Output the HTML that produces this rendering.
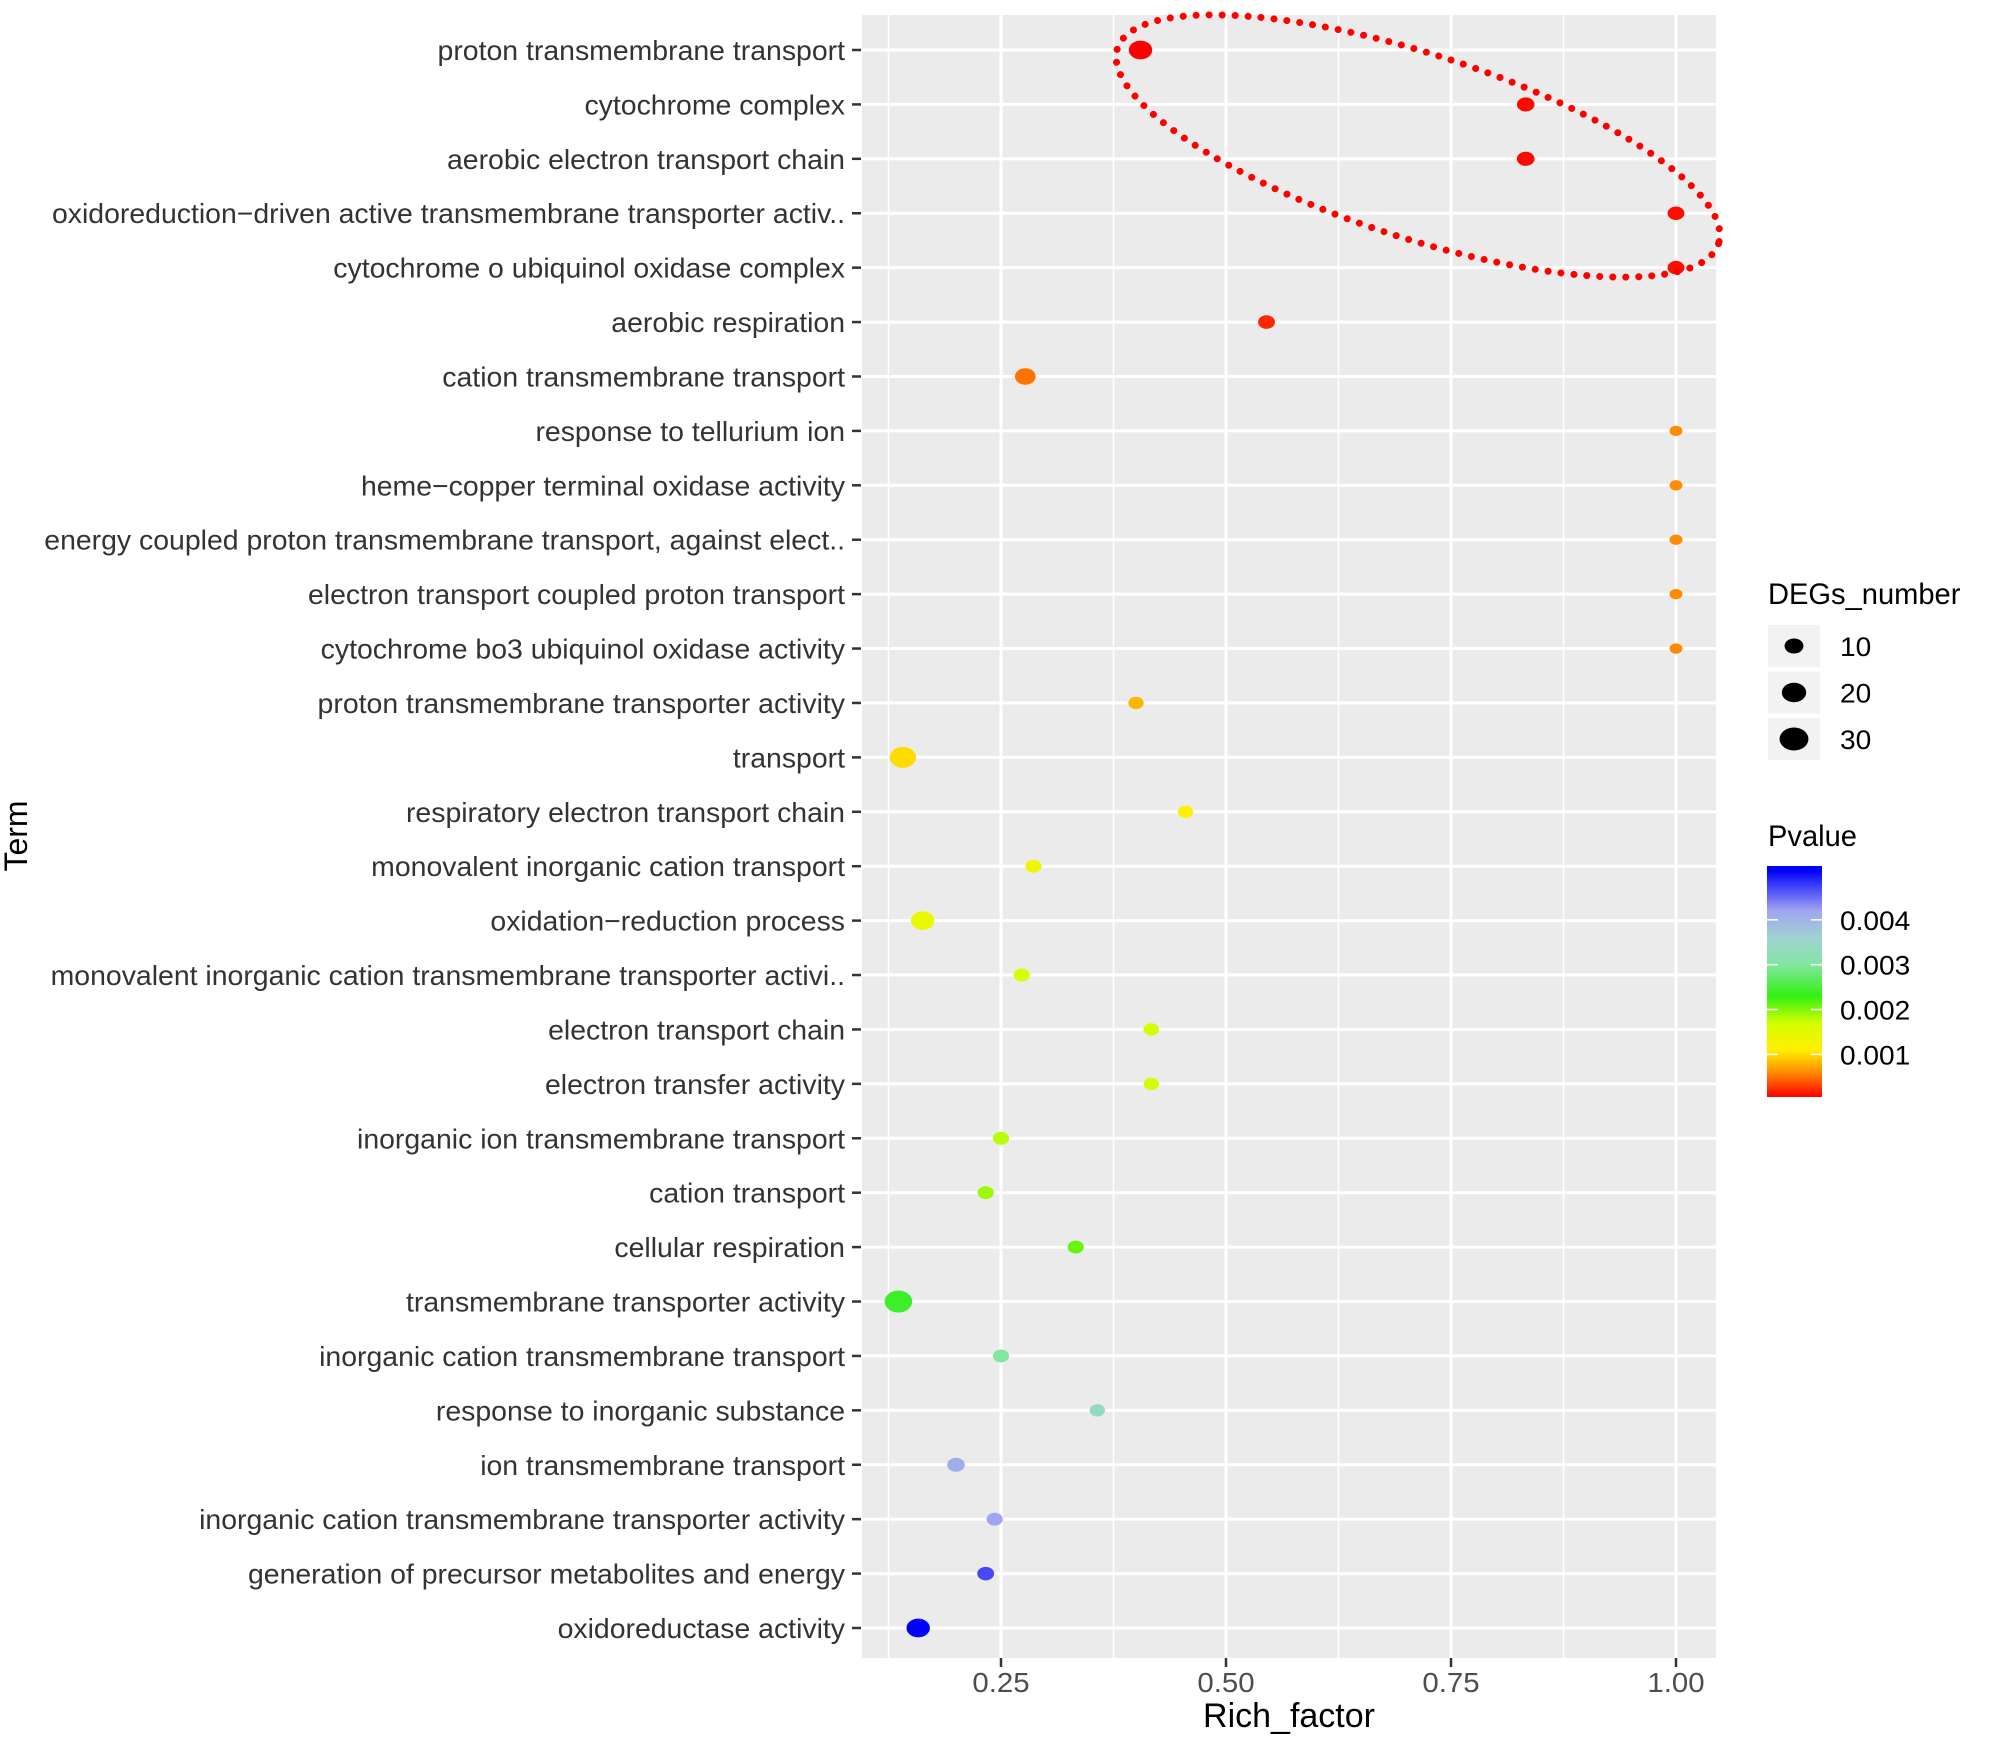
<!DOCTYPE html>
<html><head><meta charset="utf-8"><style>
html,body{margin:0;padding:0;background:#fff;}
svg text{font-family:"Liberation Sans",Arial,sans-serif;}
</style></head><body>
<svg id="chart" width="2000" height="1735" viewBox="0 0 2000 1735" xmlns="http://www.w3.org/2000/svg"></svg>
<script>
const terms = ["proton transmembrane transport","cytochrome complex","aerobic electron transport chain","oxidoreduction\u2212driven active transmembrane transporter activ..","cytochrome o ubiquinol oxidase complex","aerobic respiration","cation transmembrane transport","response to tellurium ion","heme\u2212copper terminal oxidase activity","energy coupled proton transmembrane transport, against elect..","electron transport coupled proton transport","cytochrome bo3 ubiquinol oxidase activity","proton transmembrane transporter activity","transport","respiratory electron transport chain","monovalent inorganic cation transport","oxidation\u2212reduction process","monovalent inorganic cation transmembrane transporter activi..","electron transport chain","electron transfer activity","inorganic ion transmembrane transport","cation transport","cellular respiration","transmembrane transporter activity","inorganic cation transmembrane transport","response to inorganic substance","ion transmembrane transport","inorganic cation transmembrane transporter activity","generation of precursor metabolites and energy","oxidoreductase activity"];
const richFactor = [0.405,0.833,0.833,1.0,1.0,0.545,0.277,1.0,1.0,1.0,1.0,1.0,0.40,0.141,0.455,0.286,0.163,0.273,0.417,0.417,0.25,0.233,0.333,0.136,0.25,0.357,0.20,0.243,0.233,0.158];
const degs = [18,8,8,7,7,7,13,2,2,2,2,2,5,24,5,6,18,6,5,5,6,6,6,27,6,5,8,6,7,18];
const pvals = [0.00005,0.00008,0.00008,0.0001,0.0001,0.0002,0.0005,0.0006,0.0006,0.0006,0.0006,0.0006,0.0008,0.0010,0.0011,0.0013,0.0014,0.0016,0.0017,0.0017,0.0018,0.0019,0.0021,0.0024,0.0030,0.0034,0.0041,0.0042,0.0047,0.0051];
const xTicks = [0.25,0.50,0.75,1.00];
const xTickLabels = ["0.25","0.50","0.75","1.00"];
const sizeBreaks = [10,20,30];
const pBreaks = [0.001,0.002,0.003,0.004];
const pBreakLabels = ["0.001","0.002","0.003","0.004"];

const NS="http://www.w3.org/2000/svg";
const svg=document.getElementById('chart');
function mk(tag,attrs,parent){const e=document.createElementNS(NS,tag);for(const k in attrs)e.setAttribute(k,attrs[k]);(parent||svg).appendChild(e);return e;}

const P={l:862,r:1716,t:15,b:1658};
const xs=v=>1001+(v-0.25)*900;
const ys=i=>50+i*((1628-50)/29);
const wOf=n=>1.15*Math.sqrt(90+18*n);
const stops=[[0.00005,[255,0,0]],[0.0006,[255,140,0]],[0.0011,[255,240,0]],[0.0017,[210,255,0]],[0.0023,[50,240,20]],[0.0030,[130,230,160]],[0.0036,[160,210,210]],[0.0042,[160,165,240]],[0.0051,[0,0,255]]];
function col(p){if(p<=stops[0][0])return 'rgb('+stops[0][1]+')';for(let i=1;i<stops.length;i++){if(p<=stops[i][0]){const a=stops[i-1],b=stops[i];const t=(p-a[0])/(b[0]-a[0]);const c=a[1].map((v,k)=>Math.round(v+(b[1][k]-v)*t));return 'rgb('+c+')';}}return 'rgb('+stops[stops.length-1][1]+')';}

const panel=mk('rect',{x:P.l,y:P.t,width:P.r-P.l,height:P.b-P.t,fill:'#ebebeb'});


for(let i=0;i<xTicks.length;i++){const v=xTicks[i]-0.125;const g=mk('line',{x1:xs(v),x2:xs(v),y1:P.t,y2:P.b,stroke:'#fff','stroke-width':1.5});}
xTicks.forEach(v=>{const g=mk('line',{x1:xs(v),x2:xs(v),y1:P.t,y2:P.b,stroke:'#fff','stroke-width':3});});
terms.forEach((t,i)=>{const g=mk('line',{x1:P.l,x2:P.r,y1:ys(i),y2:ys(i),stroke:'#fff','stroke-width':3});});

terms.forEach((t,i)=>{
  const tk=mk('line',{x1:852,x2:861,y1:ys(i),y2:ys(i),stroke:'#333','stroke-width':2.5});
  
  const g=mk('g',{transform:'translate(845,'+(ys(i)+10)+') scale(1.015,1)'});
  const tx=mk('text',{x:0,y:0,'text-anchor':'end','font-size':28,fill:'#333'},g);
  tx.textContent=t;
  
});
xTicks.forEach((v,i)=>{
  const tk=mk('line',{x1:xs(v),x2:xs(v),y1:P.b,y2:P.b+9,stroke:'#333','stroke-width':2.5});
  
  const g=mk('g',{transform:'translate('+xs(v)+',1692) scale(1.05,1)'});
  const tx=mk('text',{x:0,y:0,'text-anchor':'middle','font-size':28,fill:'#4d4d4d'},g);
  tx.textContent=xTickLabels[i];
  
});
{const t=mk('text',{x:1289,y:1727,'text-anchor':'middle','font-size':34,fill:'#000'});t.textContent='Rich_factor';}
{const g=mk('g',{transform:'translate(27,836) rotate(-90)'});const t=mk('text',{x:0,y:0,'text-anchor':'middle','font-size':32,fill:'#000'},g);t.textContent='Term';}

terms.forEach((t,i)=>{
  const w=wOf(degs[i]);
  const e=mk('ellipse',{cx:xs(richFactor[i]),cy:ys(i),rx:w/2,ry:w*0.4,fill:col(pvals[i])});
  
  
});

const he=mk('ellipse',{cx:1418,cy:146,rx:316,ry:92,transform:'rotate(18 1418 146)',fill:'none',stroke:'#ff0000','stroke-width':7,'stroke-linecap':'round','stroke-dasharray':'0 13'});



{const g=mk('g',{transform:'translate(1768,604) scale(0.97,1)'});const t=mk('text',{x:0,y:0,'font-size':30,fill:'#000'},g);t.textContent='DEGs_number';}
sizeBreaks.forEach((n,i)=>{
  const y0=625+i*46.5;
  const b=mk('rect',{x:1768,y:y0,width:52,height:42,fill:'#f2f2f2'});
  const w=wOf(n);
  const d=mk('ellipse',{cx:1794,cy:y0+21,rx:w/2,ry:w*0.4,fill:'#000'});
  const g=mk('g',{transform:'translate(1840,'+(y0+31)+') scale(1.04,1)'});
  const t=mk('text',{x:0,y:0,'font-size':27,fill:'#000'},g);t.textContent=String(n);
});
{const g=mk('g',{transform:'translate(1768,846) scale(0.97,1)'});const t=mk('text',{x:0,y:0,'font-size':30,fill:'#000'},g);t.textContent='Pvalue';}
const defs=mk('defs',{});
const lg=mk('linearGradient',{id:'pg',x1:0,y1:1,x2:0,y2:0},defs);
const cbTop=866,cbBot=1097,pMin=0.00005,pMax=0.0052;
const pToY=p=>cbBot-(p-pMin)/(pMax-pMin)*(cbBot-cbTop);
stops.forEach(s=>{mk('stop',{offset:((s[0]-pMin)/(pMax-pMin)),'stop-color':'rgb('+s[1]+')'},lg);});
const cb=mk('rect',{x:1767,y:cbTop,width:55,height:cbBot-cbTop,fill:'url(#pg)'});

pBreaks.forEach((p,i)=>{
  const y=pToY(p);
  mk('line',{x1:1767,x2:1778,y1:y,y2:y,stroke:'#fff','stroke-width':1.5});
  mk('line',{x1:1811,x2:1822,y1:y,y2:y,stroke:'#fff','stroke-width':1.5});
  const g=mk('g',{transform:'translate(1840,'+(y+10)+') scale(1.04,1)'});
  const t=mk('text',{x:0,y:0,'font-size':27,fill:'#000'},g);t.textContent=pBreakLabels[i];
});
</script>
</body></html>
